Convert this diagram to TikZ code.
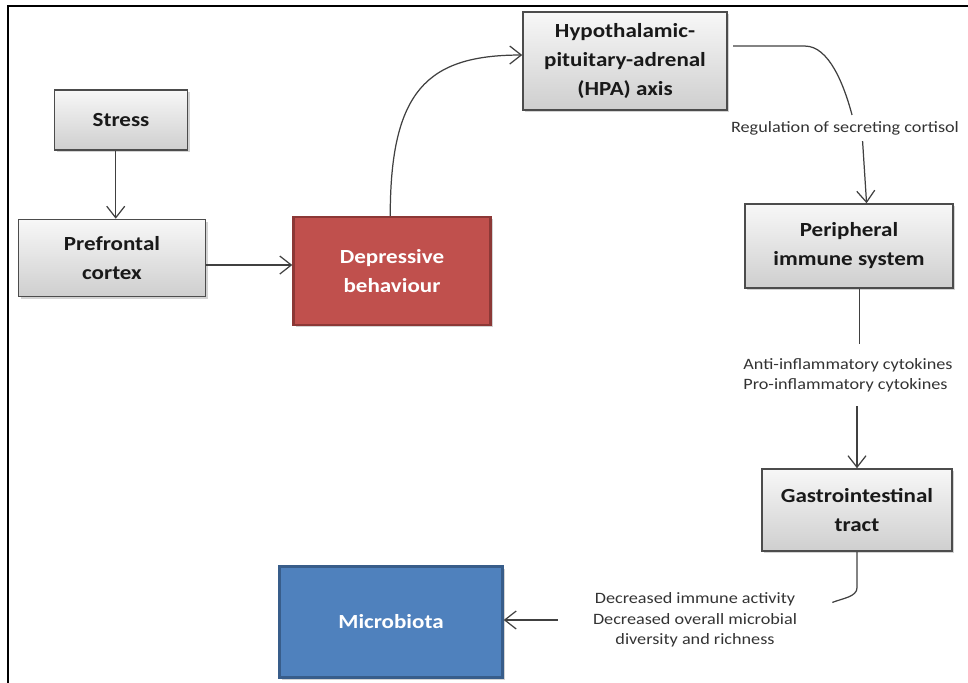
\documentclass[tikz,border=0pt]{standalone}
\usepackage{fontspec}
\setmainfont{Carlito}[FakeStretch=1.15]
\usetikzlibrary{arrows.meta,positioning,calc,shadows}

\definecolor{deprred}{HTML}{C0504D}
\definecolor{deprline}{HTML}{8C3836}
\definecolor{microblue}{HTML}{4F81BD}
\definecolor{microline}{HTML}{385D8A}

\begin{document}
\begin{tikzpicture}[
  x=0.02cm, y=-0.02cm,
  >={Straight Barb[length=2.3mm,width=3.6mm]},
  every node/.style={font=\fontsize{9}{11.6}\selectfont, text=black!80},
  box/.style={line width=0.9pt, align=center, inner sep=2pt,
              font=\fontsize{11.4}{16.5}\selectfont\bfseries,
              drop shadow={opacity=0.35, shadow xshift=1.3pt, shadow yshift=-1.3pt}},
  greybox/.style={box, draw=black!70, text=black!90,
                  top color=gray!6, bottom color=gray!38},
  redbox/.style={box, draw=deprline, fill=deprred, text=white, line width=1.4pt},
  bluebox/.style={box, draw=microline, fill=microblue, text=white, line width=1.4pt},
  link/.style={draw=black!75, line width=0.7pt},
]
\useasboundingbox (0,0) rectangle (968,683);

% frame
\draw[line width=1.4pt] (8,683) -- (8,6) -- (968,6);

% left column
\node[greybox, minimum width=2.66cm, minimum height=1.2cm] (stress) at (121,120) {Stress};
\node[greybox, minimum width=3.74cm, minimum height=1.54cm] (pfc) at (112,258) {Prefrontal\\cortex};
\node[redbox, minimum width=3.94cm, minimum height=2.16cm] (dep) at (392,271) {Depressive\\behaviour};

% right column
\node[greybox, minimum width=4.08cm, minimum height=1.96cm] (hpa) at (625,61)
  {Hypothalamic-\\pituitary-adrenal\\(HPA) axis};
\node (reg) at (845,128) {Regulation of secreting cortisol};
\node[greybox, minimum width=4.16cm, minimum height=1.68cm] (peri) at (849,246)
  {Peripheral\\immune system};
\node[align=left, inner ysep=8pt] (cyt) at (848,375)
  {Anti-inflammatory cytokines\\Pro-inflammatory cytokines};
\node[greybox, minimum width=3.8cm, minimum height=1.64cm] (gi) at (857,510)
  {Gastrointestinal\\tract};
\node[align=center, inner xsep=0.7cm] (dec) at (695,620)
  {Decreased immune activity\\Decreased overall microbial\\diversity and richness};
\node[bluebox, minimum width=4.46cm, minimum height=2.22cm] (micro) at (391,622) {Microbiota};

% links
\draw[link, ->] ([xshift=-3pt]stress.south) -- ([xshift=-3pt]stress.south |- pfc.north);
\draw[link, ->] ([yshift=-4pt]pfc.east) -- ([yshift=-4pt]pfc.east -| dep.west);
\draw[link, ->] ([xshift=-1pt]dep.north) .. controls +(0,-125) and +(-95,0)
  .. ([yshift=3.4pt]hpa.west);
\draw[link] ([xshift=3pt, yshift=8.5pt]hpa.east) -- ++(72,0)
  .. controls +(24,0) and +(-8,-30) .. ([xshift=4pt]reg.north);
\draw[link, ->] ([xshift=10pt]reg.south) -- ([xshift=10pt]peri.north);
\draw[link] ([xshift=6pt]peri.south) -- ([xshift=6pt]peri.south |- cyt.north);
\draw[link, ->] (cyt.south -| gi.north) -- (gi.north);
\draw[link] (gi.south) -- ++(0,36)
  .. controls +(0,9) and +(10,-4) .. ([yshift=10pt]dec.east);
\draw[link, ->] (dec.west) -- (dec.west -| micro.east);
\end{tikzpicture}
\end{document}
